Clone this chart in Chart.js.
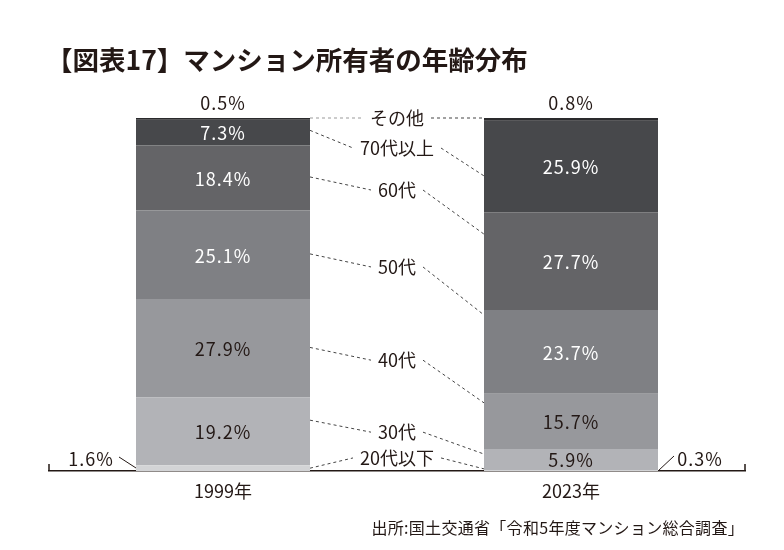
<!DOCTYPE html>
<html lang="ja">
<head>
<meta charset="utf-8">
<title>マンション所有者の年齢分布</title>
<script src="https://cdn.jsdelivr.net/npm/chart.js@4.4.1/dist/chart.umd.min.js"></script>
<style>
  html, body { margin: 0; padding: 0; background: #fff; }
  #wrap { position: relative; width: 784px; height: 550px; }
  #chart { position: absolute; left: 0; top: 0; }
  .title {
    position: absolute; left: 46px; top: 43px; margin: 0;
    font: bold 26.5px/32px "Noto Sans CJK JP", sans-serif;
    color: #231815; white-space: nowrap;
  }
  .source {
    position: absolute; right: 40px; top: 516px; margin: 0;
    font: 16px/22px "Noto Sans CJK JP", sans-serif;
    color: #231815; white-space: nowrap; letter-spacing: 0.3px;
  }
</style>
</head>
<body>
<div id="wrap">
  <canvas id="chart" width="784" height="550"></canvas>
  <h1 class="title">【図表17】マンション所有者の年齢分布</h1>
  <p class="source">出所:国土交通省「令和5年度マンション総合調査」</p>
</div>
<script>
// 年次（横軸）
const years = ['1999年', '2023年'];

// 年代（下から上へ積み上げ）
const ageGroups = ['20代以下', '30代', '40代', '50代', '60代', '70代以上', 'その他'];

// 構成比（%）: [1999年, 2023年]
const share20s   = [1.6, 0.3];
const share30s   = [19.2, 5.9];
const share40s   = [27.9, 15.7];
const share50s   = [25.1, 23.7];
const share60s   = [18.4, 27.7];
const share70s   = [7.3, 25.9];
const shareOther = [0.5, 0.8];

const shares = [share20s, share30s, share40s, share50s, share60s, share70s, shareOther];

// 濃淡（下が明るく、上が暗い）
const fills = ['#d3d4d6', '#b2b3b7', '#97989c', '#7f8084', '#646467', '#47484b', '#2a2a2c'];
const INK = '#231815';
const FONT = '"Noto Sans CJK JP", sans-serif';

// 中央の年代ラベルと点線の位置（縦軸の値, %）: [左端, ラベル, 右端]
const linkLayout = [
    [0.8, 3.7, 0.6],
    [14.4, 11.0, 4.8],
    [35.0, 31.4, 19.3],
    [61.5, 57.8, 44.2],
    [83.3, 79.6, 67.1],
    [96.5, 91.5, 83.6],
    [100, 100, 100],
];

const fmt = v => v.toFixed(1) + '%';

const annotate = {
    id: 'annotate',
    afterDraw(chart) {
        const { ctx, chartArea: a, scales: { y } } = chart;
        const metas = chart.data.datasets.map((d, i) => chart.getDatasetMeta(i));
        const bar0 = metas[0].data[0];
        const bar1 = metas[0].data[1];
        const leftEdge  = bar0.x + bar0.width / 2;
        const rightEdge = bar1.x - bar1.width / 2;
        const midX = (leftEdge + rightEdge) / 2;

        ctx.save();
        ctx.textAlign = 'center';
        ctx.textBaseline = 'middle';

        // 軸の両端の小さな目盛り
        ctx.strokeStyle = INK;
        ctx.lineWidth = 1.5;
        ctx.beginPath();
        ctx.moveTo(a.left, a.bottom - 7); ctx.lineTo(a.left, a.bottom);
        ctx.moveTo(a.right, a.bottom - 7); ctx.lineTo(a.right, a.bottom);
        ctx.stroke();

        // 棒の中の数値
        ctx.font = '18px ' + FONT;
        ctx.letterSpacing = '1px';
        metas.forEach((meta, di) => {
            meta.data.forEach((el, bi) => {
                const v = shares[di][bi];
                if (v < 2) return;
                ctx.fillStyle = di >= 3 ? '#ffffff' : INK;
                ctx.fillText(fmt(v), el.x, (el.y + el.base) / 2 + 1);
            });
        });

        // 小さい値は棒の外へ
        ctx.fillStyle = INK;
        const top = metas[metas.length - 1];
        top.data.forEach((el, bi) => {
            ctx.fillText(fmt(shareOther[bi]), el.x, el.y - 15);
        });
        ctx.lineWidth = 1;
        const b0 = metas[0].data[0];
        const l0 = b0.x - b0.width / 2;
        ctx.fillText(fmt(share20s[0]), l0 - 45, b0.base - 12);
        ctx.beginPath();
        ctx.moveTo(l0 - 17, b0.base - 14); ctx.lineTo(l0, b0.base - 3);
        ctx.stroke();
        const b1 = metas[0].data[1];
        const r1 = b1.x + b1.width / 2;
        ctx.fillText(fmt(share20s[1]), r1 + 42, b1.base - 12);
        ctx.beginPath();
        ctx.moveTo(r1, b1.base); ctx.lineTo(r1 + 16, b1.base - 15);
        ctx.stroke();

        // 年代ラベルと点線
        ctx.letterSpacing = '0px';
        ctx.font = '18px ' + FONT;
        ctx.setLineDash([3, 3]);
        ageGroups.forEach((name, i) => {
            const [lv, mv, rv] = linkLayout[i];
            const ly = y.getPixelForValue(lv);
            const my = y.getPixelForValue(mv);
            const ry = y.getPixelForValue(rv);
            const half = ctx.measureText(name).width / 2;
            ctx.fillStyle = INK;
            ctx.fillText(name, midX, my);
            ctx.strokeStyle = i === ageGroups.length - 1 ? '#9a9a9a' : '#444';
            ctx.beginPath();
            ctx.moveTo(leftEdge, ly); ctx.lineTo(midX - half - 7, my);
            ctx.stroke();
            ctx.strokeStyle = '#444';
            ctx.beginPath();
            ctx.moveTo(midX + half + 7, my); ctx.lineTo(rightEdge, ry);
            ctx.stroke();
        });
        ctx.restore();
    }
};

new Chart(document.getElementById('chart'), {
    type: 'bar',
    data: {
        labels: years,
        datasets: ageGroups.map((name, i) => ({
            label: name,
            data: shares[i],
            backgroundColor: fills[i],
            borderWidth: 0,
            barPercentage: 0.5,
            categoryPercentage: 1,
        }))
    },
    options: {
        responsive: false,
        animation: false,
        events: [],
        layout: { padding: { top: 118, left: 49, right: 39, bottom: 49 } },
        plugins: {
            legend: { display: false },
            tooltip: { enabled: false },
        },
        scales: {
            x: {
                stacked: true,
                grid: { display: false, drawTicks: false },
                border: { display: true, color: INK, width: 1.5 },
                ticks: {
                    color: INK,
                    font: { family: FONT, size: 18 },
                    padding: 9,
                },
                afterFit: s => { s.height = 30; },
            },
            y: {
                stacked: true,
                display: false,
                min: 0,
                max: 100,
            }
        }
    },
    plugins: [annotate]
});
</script>
</body>
</html>
